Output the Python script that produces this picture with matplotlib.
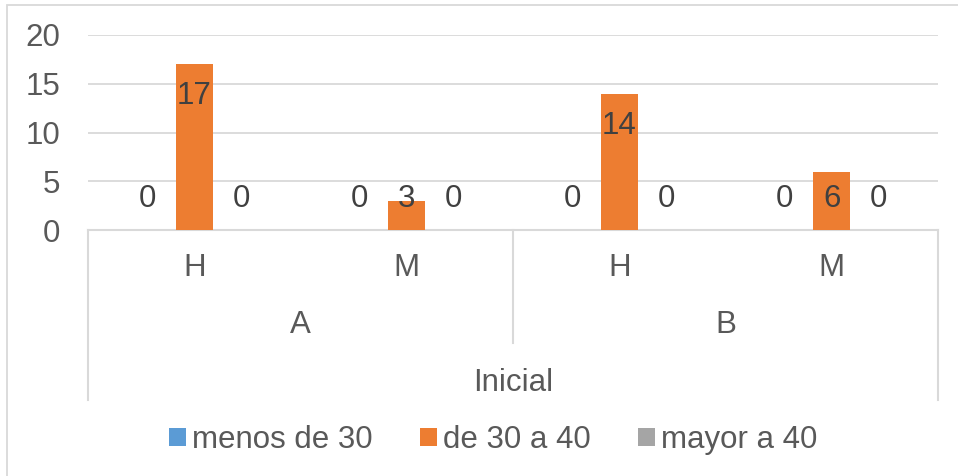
import numpy as np
import matplotlib.pyplot as plt
from matplotlib.patches import Rectangle

plt.rcParams['font.family'] = ['Liberation Sans', 'DejaVu Sans']

# data
sexos = ['H', 'M', 'H', 'M']
grupos = ['A', 'B']
etapa = 'Inicial'
series = ['menos de 30', 'de 30 a 40', 'mayor a 40']
menos_30 = [0, 0, 0, 0]
de_30_40 = [17, 3, 14, 6]
mayor_40 = [0, 0, 0, 0]
colores = ['#5b9bd5', '#ed7d31', '#a5a5a5']

W, H = 958, 476
fig = plt.figure(figsize=(W / 100, H / 100), dpi=100)
ax = fig.add_axes([88 / W, 1 - 230 / H, 850 / W, 195 / H])

gris_txt = '#595959'
gris_lin = '#d9d9d9'
fs = 22.5

x = np.arange(len(sexos))
desp = 0.221
ancho = 0.174
for i, (nombre, vals, col) in enumerate(zip(series, [menos_30, de_30_40, mayor_40], colores)):
    xs = x + (i - 1) * desp
    ax.bar(xs, vals, width=ancho, color=col, label=nombre, zorder=3)
    for xi, v in zip(xs, vals):
        ax.text(xi, max(v - 3.3, 3.2), str(v), ha='center', va='center',
                fontsize=fs, color='#404040', zorder=4)

ax.set_xlim(-0.5, len(sexos) - 0.5)
ax.set_ylim(0, 20)
ax.set_yticks([0, 5, 10, 15, 20])
ax.tick_params(axis='y', length=0, labelsize=fs, labelcolor=gris_txt, pad=20)
ax.set_xticks([])
for s in ax.spines.values():
    s.set_visible(False)
ax.grid(axis='y', color=gris_lin, linewidth=1.3, zorder=0)
ax.set_axisbelow(True)

# multi-level category axis
def fy(py):
    return 1 - py / H

def fx(px):
    return px / W

def ay(py):
    # pixel row -> axes fraction
    return (fy(py) - fy(230)) / (195 / H)

ax.plot([-0.5, 3.5], [0, 0], color=gris_lin, lw=1.5, clip_on=False, zorder=2)
for px, bot in [(88, 400), (513, 343), (938, 400)]:
    fig.add_artist(plt.Line2D([fx(px), fx(px)], [fy(230), fy(bot)], color=gris_lin, lw=1.5))

xt = ax.get_xaxis_transform()
for xi, s in zip(x, sexos):
    ax.text(xi, ay(268), s, transform=xt, ha='center', va='center', fontsize=fs,
            color=gris_txt)
for k, g in enumerate(grupos):
    ax.text(2 * k + 0.5, ay(325), g, transform=xt,
            ha='center', va='center', fontsize=fs, color=gris_txt)
ax.text(1.5, ay(383), etapa, transform=xt,
        ha='center', va='center', fontsize=fs, color=gris_txt)

# chart border
fig.add_artist(Rectangle((fx(7), fy(600)), 2, fy(5) - fy(600), fill=False,
                         edgecolor=gris_lin, lw=1.3))

leg = fig.legend(loc='center', bbox_to_anchor=(fx(493), fy(440)), ncol=3, frameon=False,
                 fontsize=fs, handlelength=0.55, handleheight=0.55, handletextpad=0.2,
                 columnspacing=1.5, borderaxespad=0)
for t in leg.get_texts():
    t.set_color(gris_txt)

fig.savefig('out.png', dpi=100)
